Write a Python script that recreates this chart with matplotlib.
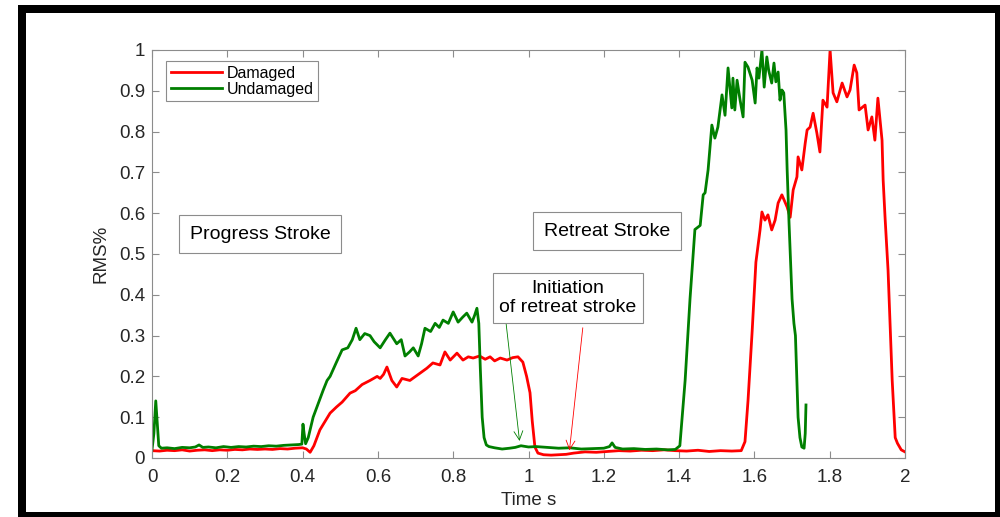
import matplotlib
matplotlib.use("Agg")
import matplotlib.pyplot as plt
from matplotlib.patches import Rectangle

plt.rcParams['font.family'] = ['Liberation Sans', 'DejaVu Sans']

# undamaged (green) trace
g_t = [0.000, 0.005, 0.010, 0.013, 0.018, 0.025, 0.04, 0.06, 0.08, 0.10, 0.115, 0.125, 0.135,
       0.15, 0.17, 0.19, 0.21, 0.23, 0.25, 0.27, 0.29, 0.31, 0.33, 0.35, 0.37, 0.39, 0.398,
       0.401, 0.404, 0.408, 0.415, 0.428, 0.44, 0.455, 0.465, 0.473, 0.49, 0.505, 0.52, 0.532,
       0.542, 0.552, 0.565, 0.579, 0.59, 0.606, 0.62, 0.632, 0.65, 0.662, 0.672, 0.684, 0.694,
       0.707, 0.716, 0.725, 0.74, 0.752, 0.763, 0.773, 0.787, 0.8, 0.813, 0.825, 0.836, 0.85,
       0.857, 0.863, 0.868, 0.872, 0.877, 0.882, 0.888, 0.895, 0.91, 0.93, 0.95, 0.965, 0.98,
       1.0, 1.02, 1.05, 1.08, 1.11, 1.14, 1.17, 1.2, 1.215, 1.222, 1.23, 1.25, 1.28, 1.31,
       1.34, 1.37, 1.39, 1.402, 1.416, 1.429, 1.442, 1.456, 1.464, 1.469, 1.477, 1.482, 1.487,
       1.495, 1.503, 1.514, 1.522, 1.53, 1.54, 1.543, 1.548, 1.554, 1.562, 1.57, 1.575, 1.583,
       1.594, 1.602, 1.607, 1.612, 1.62, 1.626, 1.633, 1.638, 1.646, 1.652, 1.657, 1.663,
       1.668, 1.673, 1.678, 1.684, 1.687, 1.692, 1.7, 1.705, 1.709, 1.713, 1.716, 1.721,
       1.726, 1.732, 1.735, 1.737]
g_v = [0.02, 0.06, 0.14, 0.10, 0.03, 0.024, 0.025, 0.023, 0.026, 0.025, 0.027, 0.032, 0.026,
       0.027, 0.025, 0.028, 0.026, 0.028, 0.027, 0.029, 0.028, 0.030, 0.029, 0.031, 0.032, 0.033, 0.034,
       0.083, 0.06, 0.035, 0.05, 0.10, 0.13, 0.167, 0.19, 0.20, 0.235, 0.265, 0.27, 0.29,
       0.318, 0.29, 0.305, 0.30, 0.285, 0.27, 0.29, 0.306, 0.28, 0.29, 0.25, 0.26, 0.27,
       0.25, 0.28, 0.318, 0.31, 0.33, 0.32, 0.338, 0.33, 0.358, 0.333, 0.345, 0.355, 0.333,
       0.35, 0.367, 0.33, 0.22, 0.10, 0.05, 0.032, 0.028, 0.025, 0.022, 0.024, 0.026, 0.03,
       0.027, 0.028, 0.026, 0.024, 0.025, 0.022, 0.023, 0.024, 0.028, 0.037, 0.026, 0.022, 0.023, 0.021,
       0.022, 0.02, 0.021, 0.03, 0.19, 0.39, 0.56, 0.57, 0.645, 0.65, 0.706, 0.762, 0.816,
       0.784, 0.811, 0.89, 0.84, 0.956, 0.858, 0.931, 0.853, 0.926, 0.877, 0.836, 0.97, 0.958,
       0.926, 0.87, 0.956, 0.931, 1.0, 0.909, 0.983, 0.95, 0.919, 0.968, 0.922, 0.946,
       0.877, 0.902, 0.895, 0.804, 0.706, 0.576, 0.39, 0.33, 0.30, 0.19, 0.10, 0.05,
       0.027, 0.024, 0.06, 0.13]

# damaged (red) trace
r_t = [0.0, 0.02, 0.04, 0.06, 0.08, 0.10, 0.12, 0.14, 0.16, 0.18, 0.20, 0.22, 0.24, 0.26, 0.28,
       0.30, 0.32, 0.34, 0.36, 0.38, 0.40, 0.41, 0.42, 0.43, 0.446, 0.46, 0.473, 0.49, 0.505,
       0.526, 0.54, 0.558, 0.579, 0.598, 0.606, 0.615, 0.624, 0.637, 0.65, 0.664, 0.685, 0.7,
       0.712, 0.73, 0.746, 0.765, 0.778, 0.792, 0.81, 0.826, 0.84, 0.853, 0.87, 0.885, 0.898,
       0.91, 0.925, 0.943, 0.958, 0.972, 0.985, 0.995, 1.004, 1.01, 1.017, 1.025, 1.04, 1.06,
       1.08, 1.1, 1.12, 1.15, 1.18, 1.21, 1.24, 1.27, 1.3, 1.33, 1.36, 1.39, 1.42, 1.45, 1.48,
       1.51, 1.54, 1.565, 1.575, 1.583, 1.594, 1.604, 1.615, 1.62, 1.628, 1.636, 1.646, 1.655,
       1.663, 1.673, 1.687, 1.695, 1.703, 1.713, 1.716, 1.726, 1.735, 1.74, 1.748, 1.756,
       1.766, 1.774, 1.782, 1.793, 1.801, 1.809, 1.819, 1.833, 1.846, 1.854, 1.865, 1.872,
       1.878, 1.894, 1.902, 1.912, 1.92, 1.928, 1.939, 1.942, 1.947, 1.955, 1.966, 1.974,
       1.98, 1.99, 2.0]
r_v = [0.018, 0.017, 0.019, 0.018, 0.02, 0.017, 0.019, 0.02, 0.018, 0.02, 0.019, 0.021, 0.02, 0.022, 0.021,
       0.022, 0.021, 0.023, 0.022, 0.024, 0.025, 0.022, 0.014, 0.03, 0.069, 0.09, 0.11, 0.125, 0.137,
       0.159, 0.165, 0.18, 0.19, 0.2, 0.195, 0.205, 0.223, 0.19, 0.174, 0.195, 0.19, 0.2,
       0.208, 0.22, 0.233, 0.228, 0.26, 0.24, 0.257, 0.24, 0.248, 0.245, 0.25, 0.242, 0.248,
       0.238, 0.245, 0.24, 0.246, 0.248, 0.235, 0.2, 0.16, 0.09, 0.027, 0.012, 0.008, 0.007,
       0.008, 0.009, 0.012, 0.015, 0.014, 0.016, 0.018, 0.017, 0.019, 0.018, 0.02, 0.018, 0.017, 0.019, 0.016,
       0.018, 0.017, 0.018, 0.04, 0.14, 0.31, 0.48, 0.559, 0.603, 0.583, 0.596, 0.559, 0.583,
       0.625, 0.645, 0.615, 0.59, 0.657, 0.689, 0.738, 0.706, 0.772, 0.804, 0.811, 0.845,
       0.796, 0.75, 0.877, 0.86, 1.0, 0.895, 0.873, 0.919, 0.885, 0.902, 0.963, 0.944,
       0.853, 0.865, 0.804, 0.836, 0.779, 0.882, 0.779, 0.681, 0.59, 0.46, 0.19, 0.05,
       0.036, 0.02, 0.015]

x_ticks = [0, 0.2, 0.4, 0.6, 0.8, 1, 1.2, 1.4, 1.6, 1.8, 2]
x_labels = ['0', '0.2', '0.4', '0.6', '0.8', '1', '1.2', '1.4', '1.6', '1.8', '2']
y_ticks = [0, 0.1, 0.2, 0.3, 0.4, 0.5, 0.6, 0.7, 0.8, 0.9, 1]
y_labels = ['0', '0.1', '0.2', '0.3', '0.4', '0.5', '0.6', '0.7', '0.8', '0.9', '1']

W, H = 1000, 517
fig = plt.figure(figsize=(W / 100, H / 100), dpi=100)
ax = fig.add_axes([152 / W, 1 - 458 / H, 753 / W, 408 / H])

axis_grey = '#8c8c8c'
text_grey = '#262626'
fs = 13.5

ax.plot(r_t, r_v, color='#ff0000', lw=2.0, label='Damaged')
ax.plot(g_t, g_v, color='#007f00', lw=2.0, label='Undamaged')

ax.set_xlim(0, 2)
ax.set_ylim(0, 1)
ax.set_xticks(x_ticks)
ax.set_xticklabels(x_labels)
ax.set_yticks(y_ticks)
ax.set_yticklabels(y_labels)
ax.tick_params(direction='in', length=5, width=0.8, color=axis_grey, labelcolor=text_grey,
               labelsize=fs, top=True, right=True, pad=5)
ax.tick_params(axis='x', pad=8)
for s in ax.spines.values():
    s.set_color(axis_grey)
    s.set_linewidth(0.8)

ax.set_xlabel('Time s', fontsize=fs, color=text_grey, labelpad=4)
ax.set_ylabel('RMS%', fontsize=fs, color=text_grey, labelpad=7)

leg = ax.legend(loc='upper left', bbox_to_anchor=(0.0186, 0.973), borderaxespad=0,
                fontsize=11.5, fancybox=False, framealpha=1, edgecolor=axis_grey,
                handlelength=3.2, handletextpad=0.3, labelspacing=0.05, borderpad=0.3)
leg.get_frame().set_linewidth(0.8)

box = dict(boxstyle='square,pad=0.55', fc='white', ec=axis_grey, lw=0.8)
ax.text(0.287, 0.549, 'Progress Stroke', fontsize=14, color='black', ha='center', va='center', bbox=box)
ax.text(1.209, 0.556, 'Retreat Stroke', fontsize=14, color='black', ha='center', va='center', bbox=box)

ax.annotate('', xy=(0.977, 0.035), xytext=(0.938, 0.35),
            arrowprops=dict(arrowstyle='->', color='#007f00', lw=0.6, mutation_scale=16))
ax.annotate('', xy=(1.108, 0.012), xytext=(1.145, 0.326),
            arrowprops=dict(arrowstyle='->', color='#ff0000', lw=0.6, mutation_scale=16))
ax.text(1.105, 0.392, 'Initiation\nof retreat stroke', fontsize=14, color='black',
        ha='center', va='center', linespacing=1.2,
        bbox=dict(boxstyle='square,pad=0.35', fc='white', ec=axis_grey, lw=0.8))

# black frame around the picture
def band(x0, y0, x1, y1):
    fig.add_artist(Rectangle((x0 / W, 1 - y1 / H), (x1 - x0) / W, (y1 - y0) / H,
                             transform=fig.transFigure, color='black', lw=0))

band(18, 5, 26, H)
band(18, 5, W, 13)
band(995, 5, W, H)
band(18, 512, W, H)

fig.savefig('out.png', dpi=100)
